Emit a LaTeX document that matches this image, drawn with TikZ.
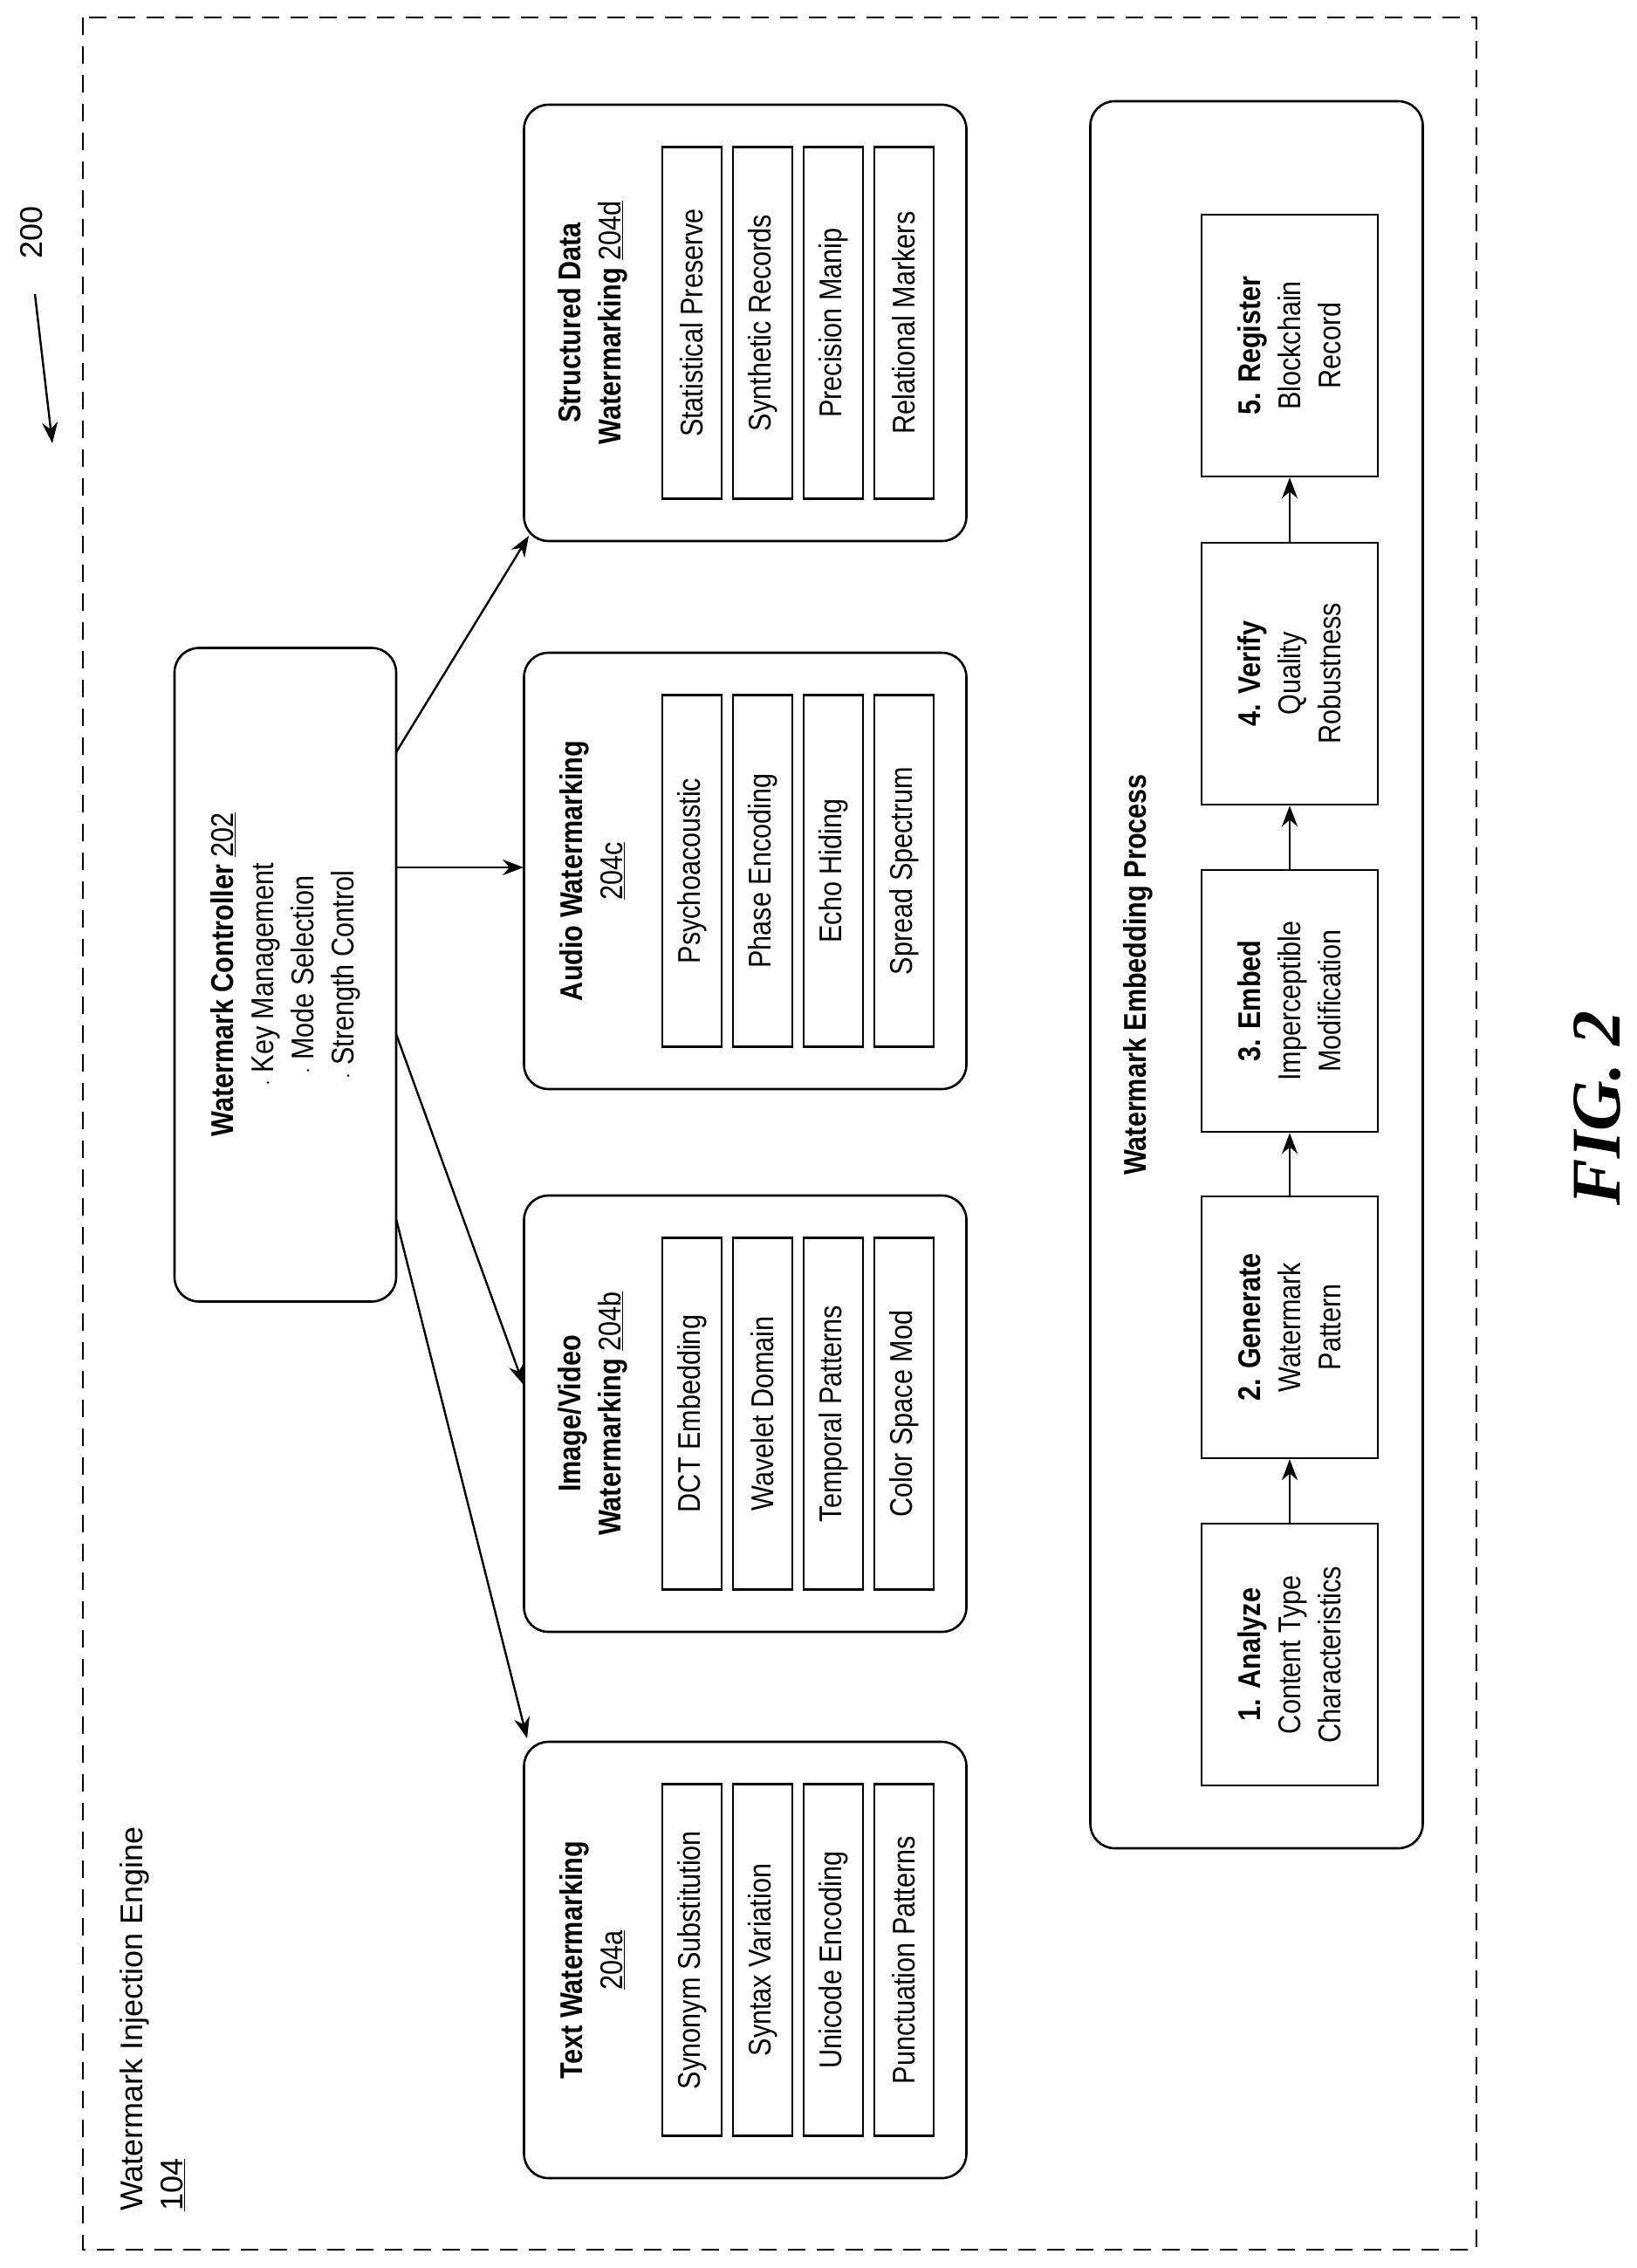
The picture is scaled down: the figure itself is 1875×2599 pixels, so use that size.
\documentclass[tikz,border=0pt]{standalone}
\usepackage{fontspec}
\setmainfont{Liberation Sans}
\newfontfamily\narrowfont[FakeStretch=0.85]{Liberation Sans}
\newfontfamily\figfont{Liberation Serif}
\usetikzlibrary{positioning}
\usetikzlibrary{arrows.meta}
\newcommand{\boxfont}{\narrowfont\fontsize{36}{46}\selectfont}

\begin{document}
\begin{tikzpicture}[x=1pt, y=-1pt,
  every node/.style={inner sep=0pt, rotate=90},
  group/.style={draw, line width=2.6pt, rounded corners=28pt, minimum height=507pt, minimum width=500pt},
  item/.style={draw, line width=2.4pt, minimum height=68pt, minimum width=403pt, font=\boxfont},
  stage/.style={draw, line width=2.4pt, minimum height=202pt, minimum width=300pt, align=center, font=\boxfont},
  arr/.style={line width=2.4pt, -{Stealth[length=24pt, width=18pt]}}]
\useasboundingbox (0,0) rectangle (1875,2599);
% outer engine frame
\draw [line width=2.2pt, dash pattern=on 20pt off 13pt] (95,20) rectangle (1692,2578);
\node (engine) [anchor=north west, align=left, font=\fontsize{36}{46}\selectfont] at (137,2534) {Watermark Injection Engine\\\underline{104}};
\node (fignum) [font=\fontsize{36}{40}\selectfont] at (36,266) {200};
\coordinate (figtip) at (60,508);
\draw [arr] (40,337) -- (figtip);
% controller
\node (ctrl) [draw, line width=2.6pt, rounded corners=28pt, minimum height=254pt, minimum width=749pt, align=center, font=\boxfont] at (327,1117)
  {\textbf{Watermark Controller} \underline{202}\\$\cdot$ Key Management\\$\cdot$ Mode Selection\\$\cdot$ Strength Control};
% watermarking groups
\node (data)  [group] at (854,370)  {};
\node (audio) [group] at (854,998)  {};
\node (image) [group] at (854,1620) {};
\node (text)  [group] at (854,2246) {};
\node [align=center, font=\boxfont] at (679,370)  {\textbf{Structured Data}\\\textbf{Watermarking} \underline{204d}};
\node [align=center, font=\boxfont] at (679,998)  {\textbf{Audio Watermarking}\\\underline{204c}};
\node [align=center, font=\boxfont] at (679,1620) {\textbf{Image/Video}\\\textbf{Watermarking} \underline{204b}};
\node [align=center, font=\boxfont] at (679,2246) {\textbf{Text Watermarking}\\\underline{204a}};
\foreach \lbl [count=\i] in {Statistical Preserve, Synthetic Records, Precision Manip, Relational Markers}
  \node (data\i) [item] at (712+81*\i,370) {\lbl};
\foreach \lbl [count=\i] in {Psychoacoustic, Phase Encoding, Echo Hiding, Spread Spectrum}
  \node (audio\i) [item] at (712+81*\i,998) {\lbl};
\foreach \lbl [count=\i] in {DCT Embedding, Wavelet Domain, Temporal Patterns, Color Space Mod}
  \node (image\i) [item] at (712+81*\i,1620) {\lbl};
\foreach \lbl [count=\i] in {Synonym Substitution, Syntax Variation, Unicode Encoding, Punctuation Patterns}
  \node (text\i) [item] at (712+81*\i,2246) {\lbl};
% controller links
\coordinate (c1) at (454,862);
\coordinate (c2) at (454,994);
\coordinate (c3) at (454,1185);
\coordinate (c4) at (454,1397);
\coordinate (d1) at (606,614);
\coordinate (d2) at (600,994);
\coordinate (d3) at (600,1587);
\coordinate (d4) at (604,1992);
\draw [arr] (c1) -- (d1);
\draw [arr] (c2) -- (d2);
\draw [arr] (c3) -- (d3);
\draw [arr] (c4) -- (d4);
% embedding process
\node (proc) [draw, line width=2.6pt, rounded corners=28pt, minimum height=381pt, minimum width=2002pt] at (1440,1117) {};
\node (proctitle) [font=\boxfont\bfseries] at (1304,1117) {Watermark Embedding Process};
\node (s1) [stage] at (1478,1896) {\textbf{1. Analyze}\\Content Type\\Characteristics};
\node (s2) [stage] at (1478,1521) {\textbf{2. Generate}\\Watermark\\Pattern};
\node (s3) [stage] at (1478,1147) {\textbf{3. Embed}\\Imperceptible\\Modification};
\node (s4) [stage] at (1478,772)  {\textbf{4. Verify}\\Quality\\Robustness};
\node (s5) [stage] at (1478,396)  {\textbf{5. Register}\\Blockchain\\Record};
\foreach \a/\b in {s1/s2, s2/s3, s3/s4, s4/s5}
  \draw [arr] (\a) -- (\b);
\node (fig) [font=\figfont\bfseries\itshape\fontsize{80}{80}\selectfont] at (1831,1270) {FIG. 2};
\end{tikzpicture}
\end{document}
